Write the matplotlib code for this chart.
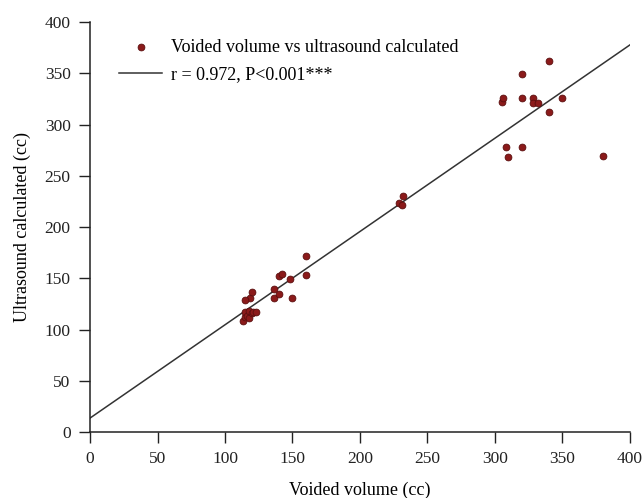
import matplotlib
matplotlib.use("Agg")
import matplotlib.pyplot as plt
import numpy as np

plt.rcParams['font.family'] = ['Liberation Serif', 'DejaVu Serif']

voided = [113, 115, 115, 116, 118, 118, 120, 121, 123, 118.5, 120, 115,
          136, 136, 140, 140, 142, 148, 150, 160, 160,
          229, 231, 232,
          305, 306, 308, 310, 320, 320, 320, 328, 328, 332, 340, 340, 350, 380]
ultrasound = [108, 112, 117, 113, 118, 111, 116, 117, 117, 131, 137, 129,
              140, 131, 135, 152, 154, 149, 131, 172, 153,
              223, 221, 230,
              322, 326, 278, 268, 349, 326, 278, 326, 321, 321, 362, 312, 326, 269]

fit_x = [0, 400]
intercept = 13.6
slope = 0.91

fig = plt.figure(figsize=(6.44, 4.98), dpi=100)
ax = fig.add_axes([0.1398, 0.1325, 0.8382, 0.8233])

ax.scatter(voided, ultrasound, s=24, color='#8b1a1a', edgecolors='#5a0e0e',
           linewidths=0.6, zorder=3, label='Voided volume vs ultrasound calculated')
ax.plot(fit_x, [intercept + slope * x for x in fit_x], color='#333333', lw=1.1,
        label='r = 0.972, P<0.001***')

ax.set_xlim(0, 400)
ax.set_ylim(0, 400)
ax.set_xticks(np.arange(0, 401, 50))
ax.set_yticks(np.arange(0, 401, 50))
for s in ['top', 'right']:
    ax.spines[s].set_visible(False)
for s in ['left', 'bottom']:
    ax.spines[s].set_linewidth(1.1)
    ax.spines[s].set_color('#222222')
ax.tick_params(axis='both', direction='out', length=8, width=1.0,
               labelsize=12.5, colors='#222222', pad=6)

ax.set_xlabel('Voided volume (cc)', fontsize=13, labelpad=10)
ax.set_ylabel('Ultrasound calculated (cc)', fontsize=13, labelpad=10)

leg = ax.legend(loc='upper left', bbox_to_anchor=(0.03, 0.99), frameon=False,
                fontsize=13, handlelength=2.4, handletextpad=0.5,
                labelspacing=0.6, scatterpoints=1, borderaxespad=0.3)

fig.savefig('out.png', dpi=100)
